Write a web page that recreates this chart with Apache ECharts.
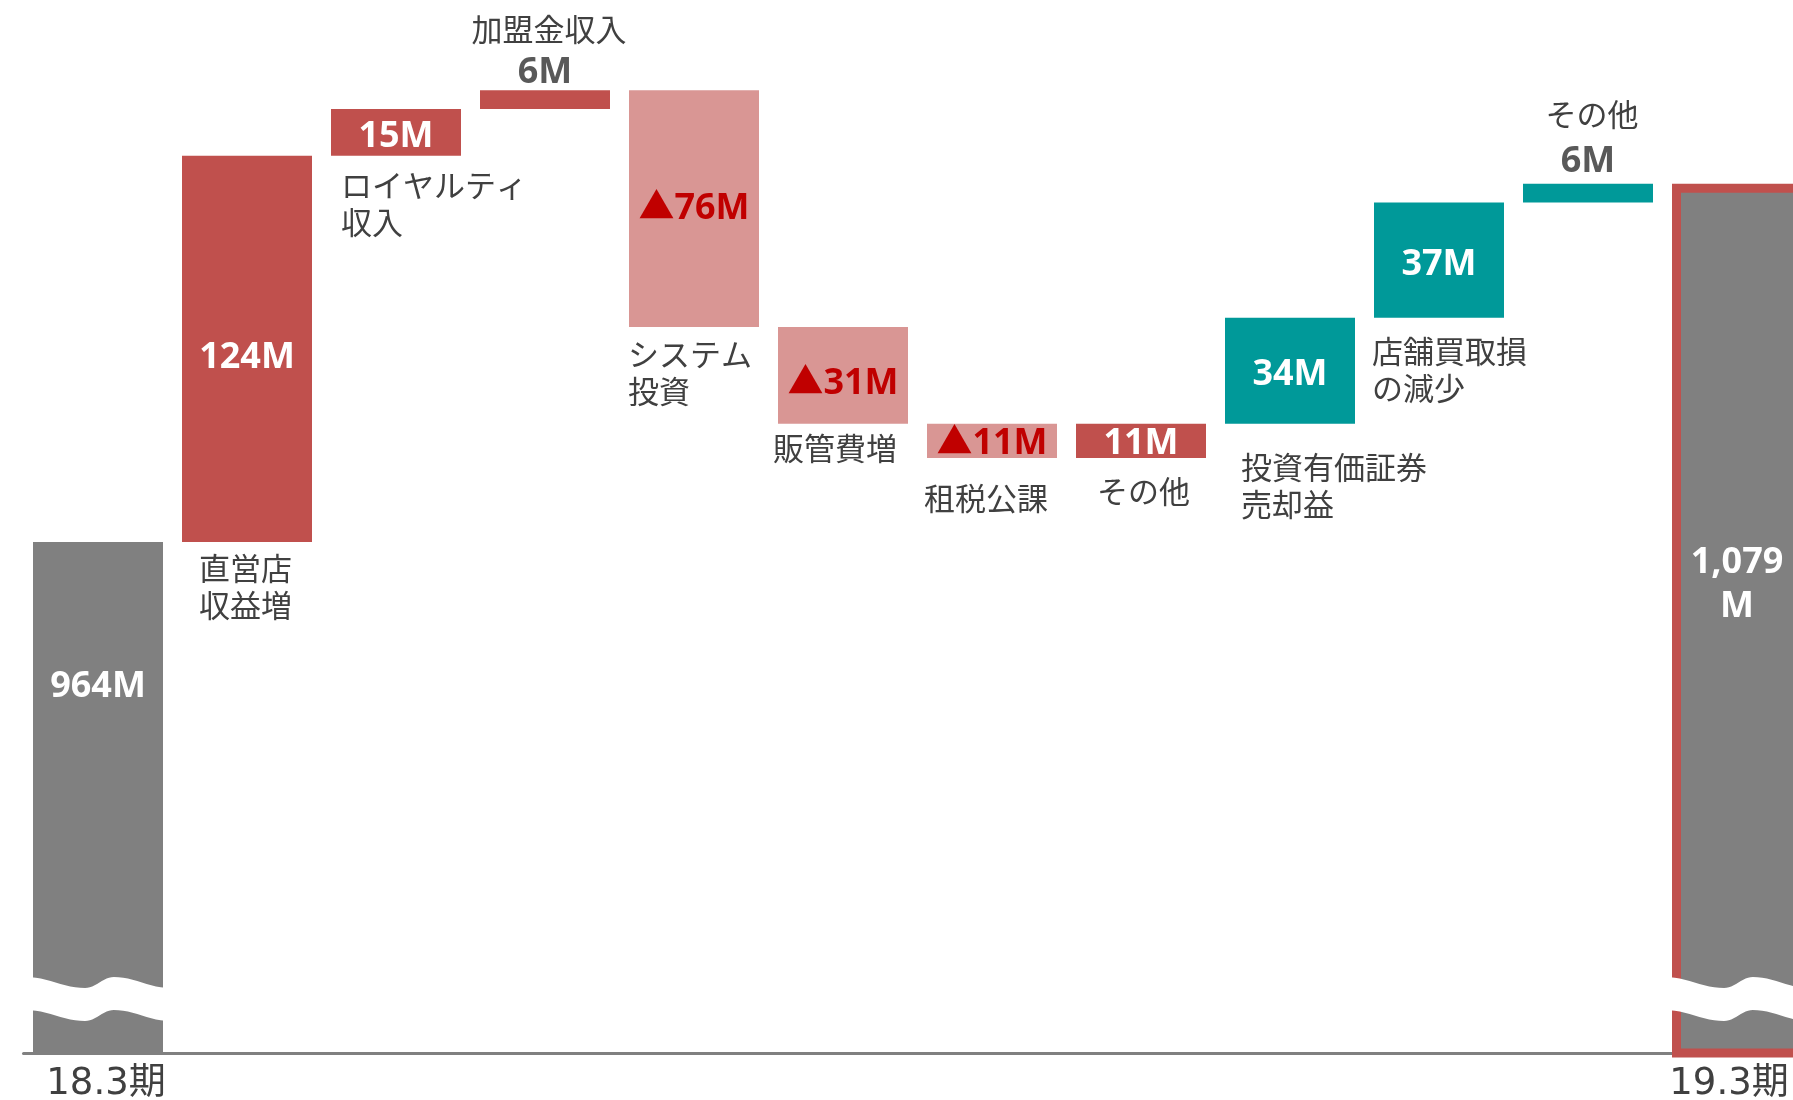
<!DOCTYPE html>
<html>
<head>
<meta charset="utf-8">
<title>経常利益 増減要因</title>
<script src="https://cdn.jsdelivr.net/npm/echarts@6/dist/echarts.min.js"></script>
<style>
  * { margin: 0; padding: 0; }
  html, body { background: #fff; }
  #chart { width: 1793px; height: 1100px; }
</style>
</head>
<body>
<div id="chart"></div>
<script>
// 項目名（\n は改行位置）
const categories = ['18.3期', '直営店\n収益増', 'ロイヤルティ\n収入', '加盟金収入', 'システム\n投資', '販管費増',
  '租税公課', 'その他', '投資有価証券\n売却益', '店舗買取損\nの減少', 'その他', '19.3期'];
// 増減額（百万円）、最初と最後は期末残高
const changes = [964, 124, 15, 6, -76, -31, -11, 11, 34, 37, 6, 1079];
// 色分け
const groups = ['total', 'sales', 'sales', 'sales', 'cost', 'cost', 'cost', 'sales', 'other', 'other', 'other', 'total'];

// 縦軸は途中を省略して800から
const yMin = 800;
const yMax = 1138;

const groupColor = { total: '#808080', sales: '#C0504D', cost: '#D99694', other: '#009999' };
// 項目名の置き場所: [dx, dy] = 棒の左下からのずらし, 'above' = 金額の上
const namePlace = [null, [17, 8], [10, 11], 'above', [-1, 9], [-5, 6], [-3, 22], [21, 15], [16, 25], [-2, 15], 'above', null];
// 金額ラベルの上下ずらし
const valueShift = [-111, 9, 4, 0, 0, 8, 3, 3, 4, 5, 0, -36];

// 積み上げ用の透明な土台と見える部分を作る
let level = 0;
const baseData = [];
const barData = [];
changes.forEach((v, i) => {
  if (groups[i] === 'total') {
    baseData.push(0);
    barData.push(v);
    level = v;
  } else if (v >= 0) {
    baseData.push(level);
    barData.push(v);
    level += v;
  } else {
    level += v;
    baseData.push(level);
    barData.push(-v);
  }
});

function valueText(i) {
  const v = changes[i];
  let s = (v < 0 ? '▲' : '') + Math.abs(v).toLocaleString('en-US') + 'M';
  if (i === changes.length - 1) s = s.replace('M', '\nM'); // 幅に入らないので折り返し
  return s;
}

const cjk = '"Noto Sans CJK JP", "Noto Sans", sans-serif';
const latin = '"Noto Sans", "Noto Sans CJK JP", sans-serif';

// 土台シリーズ（透明）: 棒の下に項目名を出す
const baseItems = baseData.map((v, i) => {
  const p = namePlace[i];
  const show = Array.isArray(p);
  return {
    value: v,
    label: {
      show: show,
      position: show ? p : 'inside',
      formatter: categories[i],
      color: '#404040',
      fontSize: 31,
      lineHeight: 37,
      fontFamily: cjk
    }
  };
});

// 見える棒
const barItems = barData.map((v, i) => {
  const g = groups[i];
  const item = {
    value: v,
    itemStyle: { color: groupColor[g] },
    label: {
      show: true,
      position: 'inside',
      offset: [0, valueShift[i]],
      formatter: valueText(i),
      color: g === 'cost' ? '#C00000' : '#ffffff',
      fontSize: 36,
      fontWeight: 'bold',
      lineHeight: 44,
      fontFamily: latin
    }
  };
  if (i === changes.length - 1) {
    item.itemStyle.borderColor = '#C0504D';
    item.itemStyle.borderWidth = 9;
  }
  if (namePlace[i] === 'above') {
    item.label.position = 'top';
    item.label.offset = [0, 0];
    item.label.distance = i === 3 ? -2.5 : 2.5;
    item.label.formatter = '{n|' + categories[i] + '}\n{v|' + valueText(i) + '}';
    item.label.rich = {
      n: { fontSize: 31, fontWeight: 'normal', lineHeight: i === 3 ? 47 : 55, color: '#404040', fontFamily: cjk, padding: [0, 0, 0, 8] },
      v: { fontSize: 36, fontWeight: 'bold', lineHeight: 40, color: '#595959', fontFamily: latin }
    };
  }
  return item;
});

// 軸ラベル（期末の2本だけ表示）
const axisData = categories.map((c, i) => {
  if (i === 0) return { value: c, textStyle: { padding: [0, 0, 0, 16] } };
  if (i === categories.length - 1) return { value: c, textStyle: { padding: [0, 16, 0, 0] } };
  return c;
});

// 省略記号（波線）をつける棒
const breakData = [];
groups.forEach((g, i) => { if (g === 'total') breakData.push([i, yMin]); });

function wavePoints(x0, w, yb) {
  const keys = [[0, -76], [0.41, -65], [0.61, -76], [1, -65]];
  const top = [];
  for (let k = 0; k < keys.length - 1; k++) {
    const a = keys[k], b = keys[k + 1];
    for (let s = 0; s < 12; s++) {
      const u = s / 12;
      top.push([x0 + (a[0] + (b[0] - a[0]) * u) * w, yb + a[1] + (b[1] - a[1]) * (1 - Math.cos(Math.PI * u)) / 2]);
    }
  }
  top.push([x0 + w, yb + keys[keys.length - 1][1]]);
  const bottom = top.map(p => [p[0], p[1] + 33]).reverse();
  return top.concat(bottom);
}

const chart = echarts.init(document.getElementById('chart'));
chart.setOption({
  backgroundColor: '#ffffff',
  animation: false,
  grid: { left: 23.5, top: 0, width: 1788, bottom: 47, outerBoundsMode: 'none', containLabel: false },
  xAxis: {
    type: 'category',
    data: axisData,
    axisTick: { show: false },
    axisLine: { lineStyle: { color: '#808080', width: 3 } },
    axisLabel: {
      interval: 0,
      margin: 13,
      fontSize: 37,
      color: '#404040',
      fontFamily: '"DejaVu Sans", "Noto Sans CJK JP", sans-serif',
      formatter: (val, idx) => (groups[idx] === 'total' ? val : '')
    }
  },
  yAxis: {
    type: 'value',
    min: yMin,
    max: yMax,
    show: false,
    splitLine: { show: false }
  },
  series: [
    {
      name: 'base',
      type: 'bar',
      stack: 'wf',
      barWidth: 130,
      silent: true,
      itemStyle: { color: 'rgba(0,0,0,0)' },
      data: baseItems
    },
    {
      name: 'change',
      type: 'bar',
      stack: 'wf',
      barWidth: 130,
      data: barItems
    },
    {
      name: 'break',
      type: 'custom',
      silent: true,
      z: 10,
      data: breakData,
      renderItem: function (params, api) {
        const pt = api.coord([api.value(0), api.value(1)]);
        const half = 72;
        return {
          type: 'polygon',
          shape: { points: wavePoints(pt[0] - half, half * 2, pt[1]) },
          style: { fill: '#ffffff' }
        };
      }
    }
  ]
});
</script>
</body>
</html>
